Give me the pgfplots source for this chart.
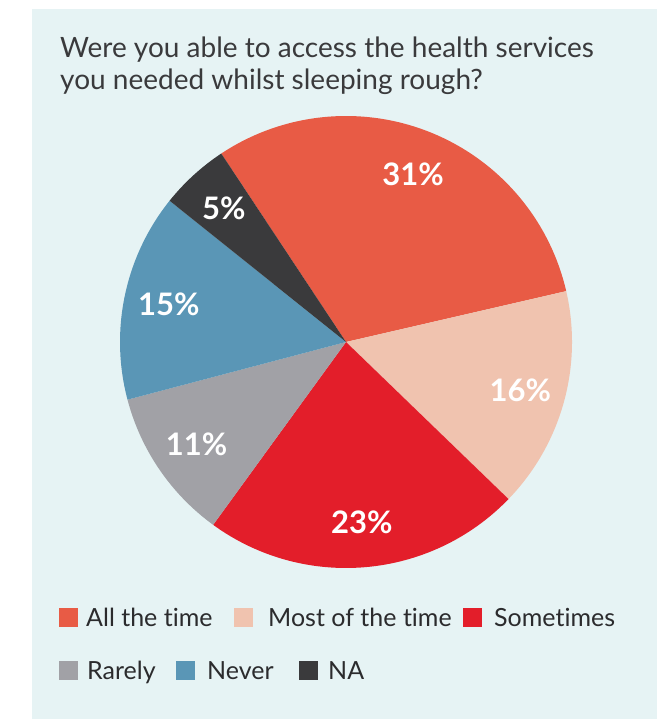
\documentclass[border=0pt]{standalone}
\usepackage{pgfplots}
\pgfplotsset{compat=1.18}
\usepackage{pgfplotstable}
\usepackage{fontspec}
\setmainfont{Lato}[Ligatures=NoCommon]
\definecolor{bgc}{HTML}{E6F3F4}
\definecolor{cAll}{HTML}{E85B45}
\definecolor{cMost}{HTML}{F0C3AF}
\definecolor{cSome}{HTML}{E31E2A}
\definecolor{cRare}{HTML}{A1A1A6}
\definecolor{cNever}{HTML}{5A96B6}
\definecolor{cNA}{HTML}{3A3A3C}
\definecolor{titlec}{HTML}{3A3A3C}
\definecolor{legc}{HTML}{2B2B2D}

\pgfplotstableread[col sep=comma]{
label,value,col
All the time,31,cAll
Most of the time,16,cMost
Sometimes,23,cSome
Rarely,11,cRare
Never,15,cNever
NA,5,cNA
}\piedata

\begin{document}
\begin{tikzpicture}
\begin{axis}[scale only axis, width=667pt, height=719pt,
  xmin=0, xmax=667, ymin=0, ymax=719, hide axis, clip=false]
\pgfplotsextra{%
  \fill[white] (axis cs:0,0) rectangle (axis cs:667,719);
  \fill[bgc] (axis cs:32,0) rectangle (axis cs:657,710);
  % title
  \node[anchor=base west, inner sep=0, text=titlec, font=\fontsize{28}{32}\selectfont]
    at (axis cs:60,661) {Were you able to access the health services};
  \node[anchor=base west, inner sep=0, text=titlec, font=\fontsize{28}{32}\selectfont]
    at (axis cs:60,629) {you needed whilst sleeping rough?};
  % total
  \gdef\total{0}%
  \foreach \i in {0,...,5}{%
    \pgfplotstablegetelem{\i}{value}\of\piedata
    \pgfmathsetmacro\t{\total+\pgfplotsretval}%
    \global\let\total\t
  }%
  \gdef\curang{123.5}%
  \foreach \i in {0,...,5}{%
    \pgfplotstablegetelem{\i}{value}\of\piedata \let\v\pgfplotsretval
    \pgfplotstablegetelem{\i}{col}\of\piedata \let\c\pgfplotsretval
    \pgfmathsetmacro\endang{\curang-\v*360/\total}%
    \pgfmathsetmacro\midang{(\curang+\endang)/2}%
    \fill[fill=\c] (axis cs:346,377) -- ([shift={(axis cs:346,377)}]\curang:226pt)
      arc[start angle=\curang, end angle=\endang, radius=226pt] -- cycle;
    \node[text=white, font=\bfseries\fontsize{31}{31}\selectfont]
      at ([shift={(axis cs:346,377)}]\midang:181pt) {\v\%};
    \global\let\curang\endang
  }%
  % legend
  \fill[cAll]   (axis cs:59,91.5) rectangle (axis cs:78,110.5);
  \fill[cMost]  (axis cs:234,91.5) rectangle (axis cs:253,110.5);
  \fill[cSome]  (axis cs:463,91.5) rectangle (axis cs:482,110.5);
  \fill[cRare]  (axis cs:59,38.5) rectangle (axis cs:78,57.5);
  \fill[cNever] (axis cs:176,38.5) rectangle (axis cs:195,57.5);
  \fill[cNA]    (axis cs:299,38.5) rectangle (axis cs:318,57.5);
  \begin{scope}[every node/.style={anchor=base west, inner sep=0, text=legc, font=\fontsize{25}{25}\selectfont}]
    \node at (axis cs:86,92) {All the time};
    \node at (axis cs:268,92) {Most of the time};
    \node at (axis cs:494,92) {Sometimes};
    \node at (axis cs:87,39) {Rarely};
    \node at (axis cs:207,39) {Never};
    \node at (axis cs:328,39) {NA};
  \end{scope}
}
\end{axis}
\end{tikzpicture}
\end{document}
